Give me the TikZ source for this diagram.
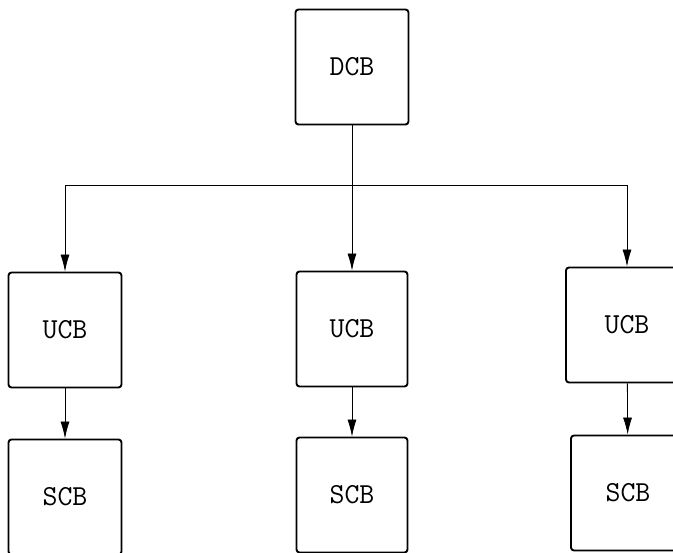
\documentclass[tikz,border=0pt]{standalone}
\usetikzlibrary{arrows.meta,positioning}
\tikzset{>={Latex[length=17pt,width=9pt]}}
\tikzset{cb/.style={draw,line width=1.9pt,rounded corners=3pt,minimum width=113pt,minimum height=115pt,inner sep=0pt,font=\fontsize{29}{31}\selectfont\ttfamily}}
\tikzset{link/.style={line width=0.8pt}}
\begin{document}
\begin{tikzpicture}[x=1pt,y=-1pt]
			\useasboundingbox (0,0) rectangle (673,553);
			% top block
			\node[cb] (dcb) at (352,67) {DCB};
			% user blocks
			\node[cb] (ucb1) at (65,330) {UCB};
			\node[cb,minimum width=111pt] (ucb2) at (352,329) {UCB};
			\node[cb,minimum width=122pt] (ucb3) at (627,325) {UCB};
			% second level
			\node[cb] (scb1) at (65,497) {SCB};
			\node[cb,minimum width=111pt] (scb2) at (352,495) {SCB};
			\node[cb,minimum width=114pt] (scb3) at (628,493) {SCB};
			\coordinate (split) at (352,185);
			\draw[link] (dcb) -- (split);
			\draw[link,->] (split) -| (ucb1);
			\draw[link,->] (split) -- (ucb2);
			\draw[link,->] (split) -| (ucb3);
			\draw[link,->] (ucb1) -- (scb1);
			\draw[link,->] (ucb2) -- (scb2);
			\draw[link,->] (ucb3) -- (scb3);
		\end{tikzpicture}
\end{document}
